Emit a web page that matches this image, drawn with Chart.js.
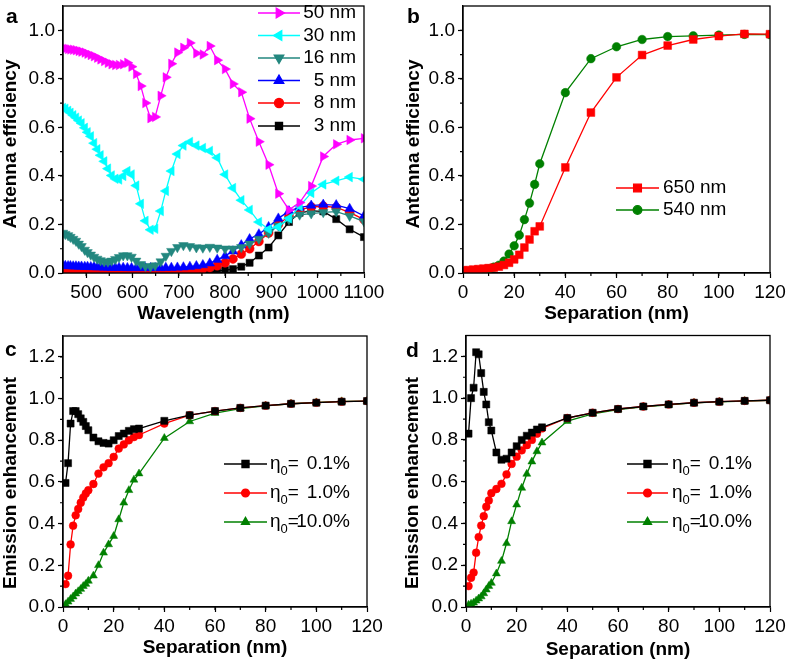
<!DOCTYPE html>
<html>
<head>
<meta charset="utf-8">
<script src="https://cdn.jsdelivr.net/npm/chart.js@4.4.0/dist/chart.umd.min.js"></script>
<style>
  html, body { margin: 0; padding: 0; background: #fff; }
  #wrap { position: relative; width: 787px; height: 661px; }
  canvas { position: absolute; }
</style>
</head>
<body>
<div id="wrap">
  <canvas id="pa" width="390" height="330" style="left:0;top:0"></canvas>
  <canvas id="pb" width="397" height="330" style="left:390px;top:0"></canvas>
  <canvas id="pc" width="390" height="331" style="left:0;top:330px"></canvas>
  <canvas id="pd" width="397" height="331" style="left:390px;top:330px"></canvas>
</div>
<script>
// panel a: antenna efficiency vs wavelength
const wavelengths = [450,455,461,466,472,478,484,490,497,503,510,517,524,531,539,547,555,563,571,580,
  589,598,608,618,628,639,649,661,672,684,697,710,724,738,752,767,783,800,817,835,
  853,873,894,915,938,961,986,1012,1040,1069,1100];
const eff50nm = [0.925,0.925,0.923,0.921,0.92,0.918,0.915,0.912,0.908,0.903,
  0.898,0.893,0.887,0.88,0.873,0.866,0.86,0.857,0.857,0.86,
  0.866,0.85,0.82,0.77,0.70,0.638,0.643,0.73,0.806,0.862,
  0.908,0.928,0.948,0.905,0.90,0.935,0.877,0.84,0.779,0.745,
  0.636,0.541,0.446,0.327,0.26,0.29,0.358,0.48,0.53,0.548,0.555];
const eff30nm = [0.68,0.677,0.668,0.66,0.65,0.64,0.628,0.617,0.598,0.58,
  0.563,0.535,0.51,0.485,0.46,0.43,0.402,0.388,0.385,0.40,
  0.42,0.406,0.36,0.285,0.215,0.178,0.182,0.255,0.338,0.42,
  0.49,0.525,0.54,0.525,0.515,0.503,0.475,0.406,0.35,0.30,
  0.26,0.21,0.18,0.19,0.225,0.275,0.33,0.365,0.38,0.395,0.386];
const eff16nm = [0.165,0.16,0.155,0.148,0.14,0.132,0.12,0.11,0.095,0.085,
  0.075,0.066,0.058,0.052,0.047,0.046,0.05,0.057,0.065,0.072,
  0.072,0.066,0.05,0.036,0.028,0.026,0.031,0.047,0.07,0.09,
  0.106,0.114,0.11,0.105,0.104,0.107,0.104,0.1,0.1,0.106,
  0.12,0.14,0.165,0.195,0.22,0.24,0.245,0.25,0.253,0.235,0.212];
const eff5nm = [0.03,0.03,0.029,0.029,0.028,0.028,0.027,0.027,0.026,0.026,
  0.025,0.025,0.024,0.024,0.023,0.023,0.022,0.022,0.022,0.022,
  0.021,0.021,0.021,0.021,0.021,0.021,0.021,0.021,0.022,0.022,
  0.023,0.024,0.026,0.029,0.033,0.04,0.055,0.07,0.09,0.115,
  0.14,0.16,0.19,0.225,0.255,0.27,0.278,0.282,0.28,0.265,0.235];
const eff8nm = [0.003,0.003,0.003,0.003,0.003,0.003,0.003,0.003,0.003,0.003,
  0.003,0.003,0.003,0.003,0.003,0.003,0.003,0.003,0.003,0.003,
  0.003,0.003,0.003,0.003,0.003,0.003,0.003,0.003,0.004,0.005,
  0.006,0.008,0.01,0.013,0.017,0.022,0.03,0.042,0.058,0.078,
  0.1,0.13,0.165,0.2,0.235,0.26,0.272,0.275,0.27,0.25,0.22];
const eff3nm = [0.001,0.001,0.001,0.001,0.001,0.001,0.001,0.001,0.001,0.001,
  0.001,0.001,0.001,0.001,0.001,0.001,0.001,0.001,0.001,0.001,
  0.001,0.001,0.001,0.001,0.001,0.001,0.001,0.001,0.001,0.001,
  0.001,0.001,0.001,0.001,0.003,0.005,0.008,0.012,0.016,0.026,
  0.042,0.072,0.105,0.155,0.21,0.248,0.256,0.254,0.222,0.18,0.148];

// panel b: antenna efficiency vs separation
const sepB = [0,2,4,6,8,10,12,14,16,18,20,22,24,26,28,30,40,50,60,70,80,90,100,110,120];
const eff650 = [0.01,0.012,0.014,0.016,0.018,0.02,0.022,0.026,0.033,0.042,0.056,0.075,0.105,0.138,0.172,0.192,
  0.435,0.661,0.806,0.898,0.937,0.962,0.976,0.985,0.984];
const eff540 = [0.005,0.006,0.008,0.01,0.013,0.017,0.024,0.032,0.049,0.078,0.112,0.156,0.22,0.288,0.365,0.45,
  0.743,0.883,0.932,0.962,0.974,0.977,0.98,0.983,0.982];

// panels c, d: emission enhancement vs separation
const sepCD = [1,2,3,4,5,6,7,8,9,10,12,14,16,18,20,22,24,26,28,30,40,50,60,70,80,90,100,110,120];
const enhC01 = [0.595,0.69,0.88,0.94,0.94,0.925,0.905,0.888,0.868,0.848,0.813,0.795,0.787,0.784,0.80,0.82,0.832,0.845,0.853,0.856,
  0.893,0.92,0.94,0.955,0.966,0.975,0.98,0.985,0.988];
const enhC1 = [0.11,0.15,0.30,0.39,0.44,0.47,0.50,0.525,0.545,0.56,0.59,0.64,0.67,0.69,0.72,0.76,0.78,0.80,0.815,0.825,
  0.88,0.92,0.94,0.955,0.966,0.975,0.98,0.985,0.988];
const enhC10 = [0.013,0.025,0.038,0.05,0.064,0.075,0.086,0.10,0.11,0.125,0.15,0.20,0.26,0.30,0.34,0.42,0.50,0.56,0.61,0.64,
  0.81,0.89,0.93,0.952,0.965,0.975,0.981,0.986,0.988];
const enhD01 = [0.83,1.0,1.05,1.22,1.21,1.12,1.03,0.97,0.885,0.845,0.74,0.705,0.71,0.74,0.77,0.80,0.82,0.835,0.85,0.86,
  0.905,0.93,0.948,0.96,0.97,0.978,0.983,0.987,0.99];
const enhD1 = [0.10,0.14,0.165,0.26,0.335,0.39,0.435,0.48,0.51,0.545,0.565,0.59,0.635,0.685,0.72,0.75,0.775,0.80,0.83,0.855,
  0.905,0.93,0.948,0.96,0.97,0.978,0.983,0.987,0.99];
const enhD10 = [0.01,0.015,0.02,0.03,0.04,0.05,0.065,0.083,0.10,0.115,0.16,0.22,0.305,0.41,0.49,0.57,0.637,0.696,0.745,0.787,
  0.89,0.925,0.945,0.958,0.968,0.977,0.982,0.986,0.99];

// tick labels
const ticksWavelength = [500,600,700,800,900,1000,1100];
const ticksSep = [0,20,40,60,80,100,120];
const ticksEff = [0,0.2,0.4,0.6,0.8,1.0];
const ticksEnh = [0,0.2,0.4,0.6,0.8,1.0,1.2];
const etaValues = [' 0.1%', ' 1.0%', '10.0%'];

const FONT = '"Liberation Sans", Arial, sans-serif';
Chart.defaults.font.family = FONT;
Chart.defaults.color = '#000';

function pts(xs, ys) { return xs.map((x, i) => ({ x: x, y: ys[i] })); }

function series(label, xs, ys, color, style, rot, r) {
  return {
    label: label, data: pts(xs, ys),
    borderColor: color, backgroundColor: color, borderWidth: 1.3,
    pointStyle: style, pointRotation: rot, pointRadius: r, pointHoverRadius: r,
    pointBackgroundColor: color, pointBorderColor: color, pointBorderWidth: 0.5,
    tension: 0
  };
}

function drawMarker(ctx, ds, x, y) {
  ctx.fillStyle = ds.pointBackgroundColor;
  ctx.strokeStyle = ds.pointBorderColor;
  const opts = { pointStyle: ds.pointStyle, rotation: ds.pointRotation, radius: ds.pointRadius, borderWidth: ds.pointBorderWidth };
  if (Chart.helpers && Chart.helpers.drawPoint) {
    Chart.helpers.drawPoint(ctx, opts, x, y);
  } else {
    ctx.beginPath(); ctx.arc(x, y, ds.pointRadius, 0, Math.PI * 2); ctx.fill();
  }
}

// frame, minor ticks, y title, panel letter and in-plot legend
const decor = {
  id: 'decor',
  afterDraw(chart, args, o) {
    const ctx = chart.ctx;
    const { left, right, top, bottom } = chart.chartArea;
    ctx.save();
    ctx.strokeStyle = '#000';
    ctx.lineWidth = 1.3;
    ctx.strokeRect(left, top, right - left, bottom - top);

    // minor ticks
    ctx.lineWidth = 1.2;
    ctx.beginPath();
    const xs = chart.scales.x, ys = chart.scales.y;
    for (let k = 0; ; k++) {
      const v = xs.min + k * o.minorX;
      if (v > xs.max + 1e-9) break;
      const px = xs.getPixelForValue(v);
      if (px <= left + 1 || px >= right - 1) continue;
      ctx.moveTo(px, bottom); ctx.lineTo(px, bottom + 3);
    }
    for (let k = 0; ; k++) {
      const v = ys.min + k * o.minorY;
      if (v > ys.max + 1e-9) break;
      const py = ys.getPixelForValue(v);
      if (py <= top + 1 || py >= bottom - 1) continue;
      ctx.moveTo(left, py); ctx.lineTo(left - 3, py);
    }
    ctx.stroke();

    ctx.fillStyle = '#000';
    // y axis title
    ctx.save();
    ctx.font = 'bold 19px ' + FONT;
    ctx.textAlign = 'center';
    ctx.textBaseline = 'middle';
    ctx.translate(o.ytitle[1], o.ytitle[2]);
    ctx.rotate(-Math.PI / 2);
    ctx.fillText(o.ytitle[0], 0, 0);
    ctx.restore();

    // panel letter
    ctx.font = 'bold 21px ' + FONT;
    ctx.textBaseline = 'alphabetic';
    ctx.textAlign = 'left';
    ctx.fillText(o.letter[0], o.letter[1], o.letter[2]);

    // legend
    const lg = o.legend;
    chart.data.datasets.forEach((ds, i) => {
      const y = lg.rows[i];
      ctx.strokeStyle = ds.borderColor;
      ctx.lineWidth = ds.borderWidth;
      ctx.beginPath(); ctx.moveTo(lg.x1, y); ctx.lineTo(lg.x2, y); ctx.stroke();
      drawMarker(ctx, ds, (lg.x1 + lg.x2) / 2, y);
      ctx.fillStyle = '#000';
      ctx.font = '19px ' + FONT;
      ctx.textBaseline = 'middle';
      if (lg.eta) {
        ctx.textAlign = 'left';
        ctx.fillText('\u03b7', lg.tx, y);
        const w1 = ctx.measureText('\u03b7').width;
        ctx.font = '13px ' + FONT;
        ctx.fillText('0', lg.tx + w1, y + 7);
        const w2 = ctx.measureText('0').width;
        ctx.font = '19px ' + FONT;
        ctx.fillText('=', lg.tx + w1 + w2, y);
        ctx.textAlign = 'right';
        ctx.fillText(lg.values[i], lg.tend, y);
      } else {
        ctx.textAlign = lg.align;
        ctx.fillText(ds.label, lg.tx, y);
      }
    });
    ctx.restore();
  }
};

function axisX(min, max, tickValues, title, height, titlePadBottom) {
  return {
    type: 'linear', min: min, max: max,
    border: { color: '#000', width: 1.3 },
    grid: { drawOnChartArea: false, tickLength: 5, tickColor: '#000', tickWidth: 1.2 },
    afterBuildTicks: s => { s.ticks = tickValues.map(v => ({ value: v })); },
    ticks: { autoSkip: false, maxRotation: 0, padding: 3,
      font: { size: 19 }, color: '#000', callback: v => String(v) },
    title: { display: true, text: title, font: { size: 19, weight: 'bold' }, color: '#000',
      padding: { top: 0, bottom: titlePadBottom } },
    afterFit: s => { s.height = height; s.paddingLeft = 0; s.paddingRight = 0; }
  };
}

function axisY(min, max, tickValues, width) {
  return {
    type: 'linear', min: min, max: max,
    border: { color: '#000', width: 1.3 },
    grid: { drawOnChartArea: false, tickLength: 5, tickColor: '#000', tickWidth: 1.2 },
    afterBuildTicks: s => { s.ticks = tickValues.map(v => ({ value: v })); },
    ticks: { autoSkip: false, padding: 3,
      font: { size: 19 }, color: '#000', callback: v => v.toFixed(1) },
    title: { display: false },
    afterFit: s => { s.width = width; s.paddingTop = 0; s.paddingBottom = 0; }
  };
}

function makeChart(id, datasets, scales, padding, deco) {
  return new Chart(document.getElementById(id), {
    type: 'line',
    data: { datasets: datasets },
    options: {
      responsive: false, animation: false, events: [],
      layout: { padding: padding },
      scales: scales,
      plugins: { legend: { display: false }, tooltip: { enabled: false }, decor: deco }
    },
    plugins: [decor]
  });
}

makeChart('pa', [
  series('50 nm', wavelengths, eff50nm, '#ff00ff', 'triangle', 90, 5.5),
  series('30 nm', wavelengths, eff30nm, '#00ffff', 'triangle', -90, 5.5),
  series('16 nm', wavelengths, eff16nm, '#23877f', 'triangle', 180, 5.5),
  series('5 nm', wavelengths, eff5nm, '#0000ff', 'triangle', 0, 5.5),
  series('8 nm', wavelengths, eff8nm, '#ff0000', 'circle', 0, 4.5),
  series('3 nm', wavelengths, eff3nm, '#000000', 'rect', 0, 5)
], {
  x: axisX(450, 1100, ticksWavelength, 'Wavelength (nm)', 57, 5),
  y: axisY(0, 1.1, ticksEff, 63)
}, { top: 3, right: 26, left: 0, bottom: 0 }, {
  minorX: 50, minorY: 0.1, letter: ['a', 6, 23], ytitle: ['Antenna efficiency', 11, 144],
  legend: { x1: 258, x2: 300, tx: 356, align: 'right', rows: [13, 35.5, 58, 80.5, 103, 126] }
});

makeChart('pb', [
  series('650 nm', sepB, eff650, '#ff0000', 'rect', 0, 5.5),
  series('540 nm', sepB, eff540, '#008000', 'circle', 0, 4.3)
], {
  x: axisX(0, 120, ticksSep, 'Separation (nm)', 57, 5),
  y: axisY(0, 1.1, ticksEff, 73)
}, { top: 3, right: 17, left: 0, bottom: 0 }, {
  minorX: 10, minorY: 0.1, letter: ['b', 17, 23], ytitle: ['Antenna efficiency', 23.5, 144],
  legend: { x1: 226, x2: 269, tx: 273, align: 'left', rows: [188, 210] }
});

makeChart('pc', [
  series('0.1%', sepCD, enhC01, '#000000', 'rect', 0, 5),
  series('1.0%', sepCD, enhC1, '#ff0000', 'circle', 0, 3.9),
  series('10.0%', sepCD, enhC10, '#008000', 'triangle', 0, 4.6)
], {
  x: axisX(0, 120, ticksSep, 'Separation (nm)', 54, 2),
  y: axisY(0, 1.3, ticksEnh, 63)
}, { top: 6, right: 23, left: 0, bottom: 0 }, {
  minorX: 10, minorY: 0.1, letter: ['c', 5, 26], ytitle: ['Emission enhancement', 10.5, 153],
  legend: { x1: 224, x2: 267, tx: 270, tend: 350, eta: true, values: etaValues, rows: [134, 163, 192] }
});

makeChart('pd', [
  series('0.1%', sepCD, enhD01, '#000000', 'rect', 0, 5),
  series('1.0%', sepCD, enhD1, '#ff0000', 'circle', 0, 3.9),
  series('10.0%', sepCD, enhD10, '#008000', 'triangle', 0, 4.6)
], {
  x: axisX(0, 120, ticksSep, 'Separation (nm)', 54, 0),
  y: axisY(0, 1.3, ticksEnh, 76)
}, { top: 5, right: 17, left: 0, bottom: 0 }, {
  minorX: 10, minorY: 0.1, letter: ['d', 16, 27], ytitle: ['Emission enhancement', 22.5, 153],
  legend: { x1: 237, x2: 278, tx: 282, tend: 362, eta: true, values: etaValues, rows: [134, 163, 192] }
});
</script>
</body>
</html>
